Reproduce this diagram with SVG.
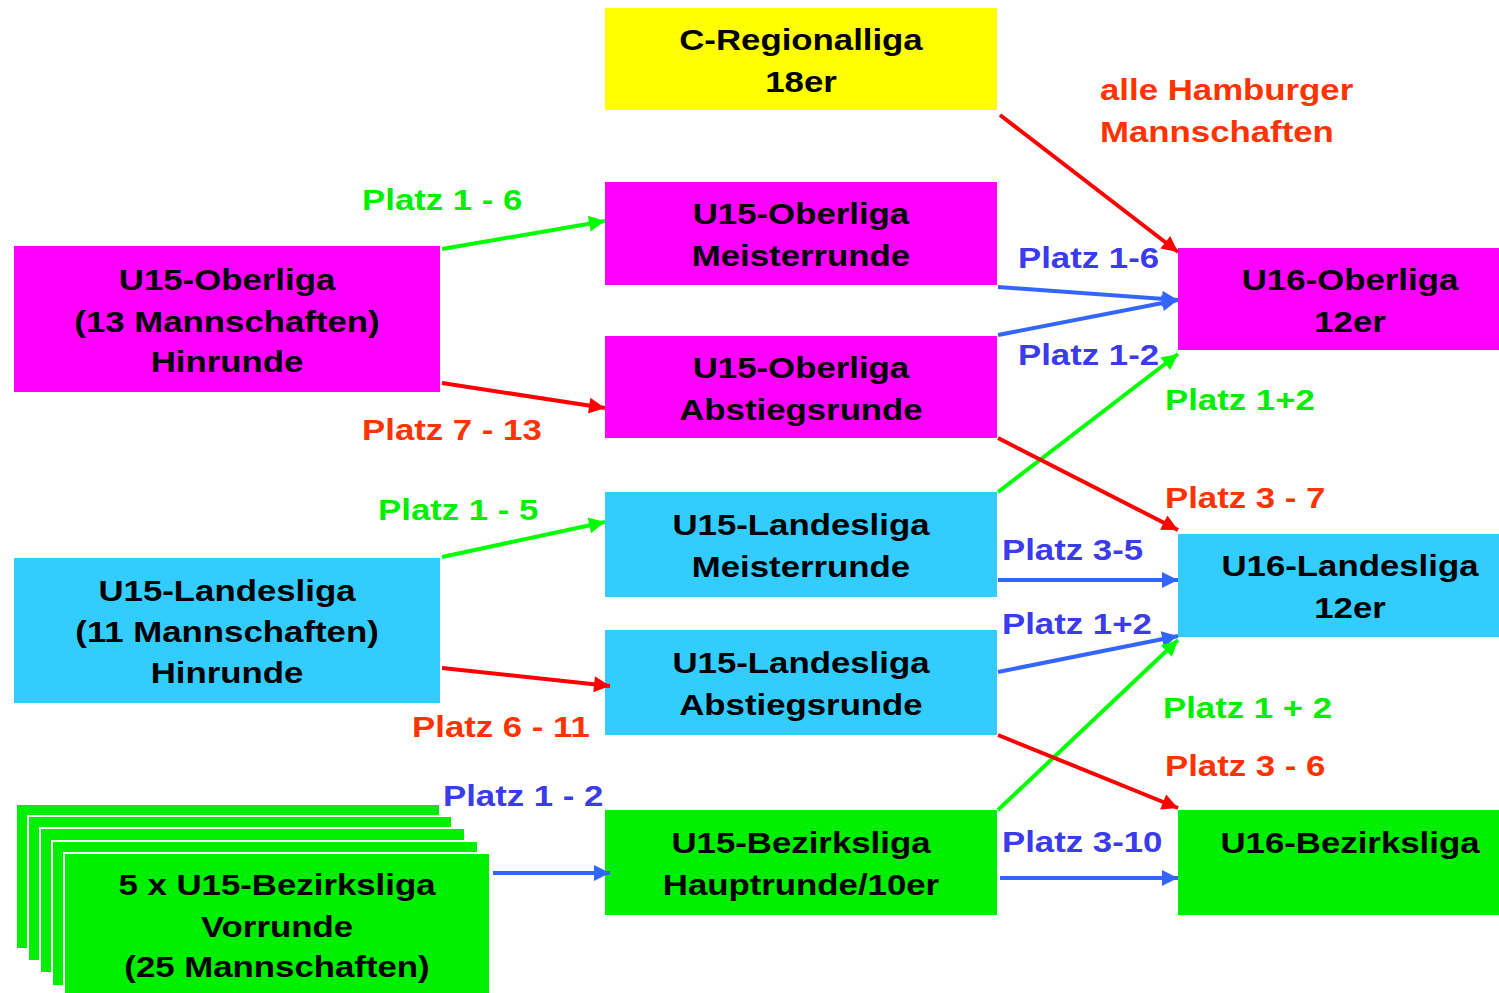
<svg xmlns="http://www.w3.org/2000/svg" width="1499" height="993" viewBox="0 0 1499 993">
<defs>
<style>
.t{font-family:"Liberation Sans",Arial,sans-serif;font-weight:bold;font-size:30px;fill:#000;text-anchor:middle;transform:scale(1.16,1)}
.l{font-family:"Liberation Sans",Arial,sans-serif;font-weight:bold;font-size:30px;transform:scale(1.16,1)}
.lg{fill:#00EE00}.lr{fill:#FF3300}.lb{fill:#3B3BEE}
.yel{fill:#FFFF00}.mag{fill:#FF00FF}.cya{fill:#33CCFF}.grn{fill:#00EE00}
.stk{fill:#00EE00;stroke:#fff;stroke-width:2}
.a{stroke-width:4;fill:none}
.ar{stroke:#FF0000;marker-end:url(#mr)}
.ag{stroke:#00FF00;marker-end:url(#mg)}
.ab{stroke:#3366FF;marker-end:url(#mb)}
</style>
<marker id="mr" viewBox="0 0 10 10" refX="10" refY="5" markerWidth="20" markerHeight="16" markerUnits="userSpaceOnUse" orient="auto"><path d="M0,0L10,5L0,10z" fill="#FF0000"/></marker>
<marker id="mg" viewBox="0 0 10 10" refX="10" refY="5" markerWidth="20" markerHeight="16" markerUnits="userSpaceOnUse" orient="auto"><path d="M0,0L10,5L0,10z" fill="#00FF00"/></marker>
<marker id="mb" viewBox="0 0 10 10" refX="10" refY="5" markerWidth="20" markerHeight="16" markerUnits="userSpaceOnUse" orient="auto"><path d="M0,0L10,5L0,10z" fill="#3366FF"/></marker>
</defs>
<rect width="1499" height="993" fill="#fff"/>

<g id="c-regionalliga"><rect class="yel" x="605" y="8" width="392" height="102"/><text class="t" x="690.5" y="50">C-Regionalliga</text><text class="t" x="690.5" y="92">18er</text></g>
<g id="u15-ol-meister"><rect class="mag" x="605" y="182" width="392" height="103"/><text class="t" x="690.5" y="224">U15-Oberliga</text><text class="t" x="690.5" y="266">Meisterrunde</text></g>
<g id="u15-ol-abstieg"><rect class="mag" x="605" y="336" width="392" height="102"/><text class="t" x="690.5" y="378">U15-Oberliga</text><text class="t" x="690.5" y="420">Abstiegsrunde</text></g>
<g id="u15-ll-meister"><rect class="cya" x="605" y="492" width="392" height="105"/><text class="t" x="690.5" y="535">U15-Landesliga</text><text class="t" x="690.5" y="577">Meisterrunde</text></g>
<g id="u15-ll-abstieg"><rect class="cya" x="605" y="630" width="392" height="105"/><text class="t" x="690.5" y="673">U15-Landesliga</text><text class="t" x="690.5" y="715">Abstiegsrunde</text></g>
<g id="u15-bl-haupt"><rect class="grn" x="605" y="810" width="392" height="105"/><text class="t" x="690.5" y="853">U15-Bezirksliga</text><text class="t" x="690.5" y="895">Hauptrunde/10er</text></g>
<g id="u15-ol-hin"><rect class="mag" x="14" y="246" width="426" height="146"/><text class="t" x="195.7" y="290">U15-Oberliga</text><text class="t" x="195.7" y="332">(13 Mannschaften)</text><text class="t" x="195.7" y="372">Hinrunde</text></g>
<g id="u15-ll-hin"><rect class="cya" x="14" y="558" width="426" height="145"/><text class="t" x="195.7" y="601">U15-Landesliga</text><text class="t" x="195.7" y="642">(11 Mannschaften)</text><text class="t" x="195.7" y="683">Hinrunde</text></g>
<g id="u15-bl-vor">
<rect class="stk" x="16" y="804" width="424" height="145"/>
<rect class="stk" x="28" y="816" width="424" height="145"/>
<rect class="stk" x="40" y="828" width="425" height="145"/>
<rect class="stk" x="52" y="841" width="426" height="145"/>
<rect class="stk" x="64" y="853" width="426" height="145"/>
<text class="t" x="238.8" y="895">5 x U15-Bezirksliga</text><text class="t" x="238.8" y="937">Vorrunde</text><text class="t" x="238.8" y="977">(25 Mannschaften)</text></g>
<g id="u16-ol"><rect class="mag" x="1178" y="248" width="321" height="102"/><text class="t" x="1163.8" y="290">U16-Oberliga</text><text class="t" x="1163.8" y="332">12er</text></g>
<g id="u16-ll"><rect class="cya" x="1178" y="534" width="321" height="103"/><text class="t" x="1163.8" y="576">U16-Landesliga</text><text class="t" x="1163.8" y="618">12er</text></g>
<g id="u16-bl"><rect class="grn" x="1178" y="810" width="321" height="105"/><text class="t" x="1163.8" y="853">U16-Bezirksliga</text></g>

<g id="connectors">
<line class="a ar" x1="1000" y1="115" x2="1178" y2="252"/>
<line class="a ag" x1="442" y1="249" x2="605" y2="221"/>
<line class="a ar" x1="442" y1="383" x2="605" y2="408"/>
<line class="a ab" x1="998" y1="287" x2="1178" y2="300"/>
<line class="a ab" x1="998" y1="335" x2="1178" y2="300"/>
<line class="a ag" x1="998" y1="492" x2="1178" y2="354"/>
<line class="a ar" x1="998" y1="438" x2="1178" y2="530"/>
<line class="a ag" x1="442" y1="557" x2="605" y2="522"/>
<line class="a ar" x1="442" y1="668" x2="610" y2="686"/>
<line class="a ab" x1="998" y1="580" x2="1178" y2="580"/>
<line class="a ab" x1="998" y1="672" x2="1178" y2="636"/>
<line class="a ag" x1="998" y1="810" x2="1178" y2="640"/>
<line class="a ar" x1="998" y1="735" x2="1178" y2="808"/>
<line class="a ab" x1="493" y1="873" x2="610" y2="873"/>
<line class="a ab" x1="1000" y1="878" x2="1178" y2="878"/>
</g>

<g id="labels">
<text class="l lr" x="948.3" y="100">alle Hamburger</text>
<text class="l lr" x="948.3" y="142">Mannschaften</text>
<text class="l lg" x="312.1" y="210">Platz 1 - 6</text>
<text class="l lr" x="312.1" y="440">Platz 7 - 13</text>
<text class="l lb" x="877.6" y="268">Platz 1-6</text>
<text class="l lb" x="877.6" y="365">Platz 1-2</text>
<text class="l lg" x="1004.3" y="410">Platz 1+2</text>
<text class="l lr" x="1004.3" y="508">Platz 3 - 7</text>
<text class="l lg" x="325.9" y="520">Platz 1 - 5</text>
<text class="l lb" x="863.8" y="560">Platz 3-5</text>
<text class="l lb" x="863.8" y="634">Platz 1+2</text>
<text class="l lr" x="355.2" y="737">Platz 6 - 11</text>
<text class="l lg" x="1002.6" y="718">Platz 1 + 2</text>
<text class="l lr" x="1004.3" y="776">Platz 3 - 6</text>
<text class="l lb" x="381.9" y="806">Platz 1 - 2</text>
<text class="l lb" x="863.8" y="852">Platz 3-10</text>
</g>
</svg>
